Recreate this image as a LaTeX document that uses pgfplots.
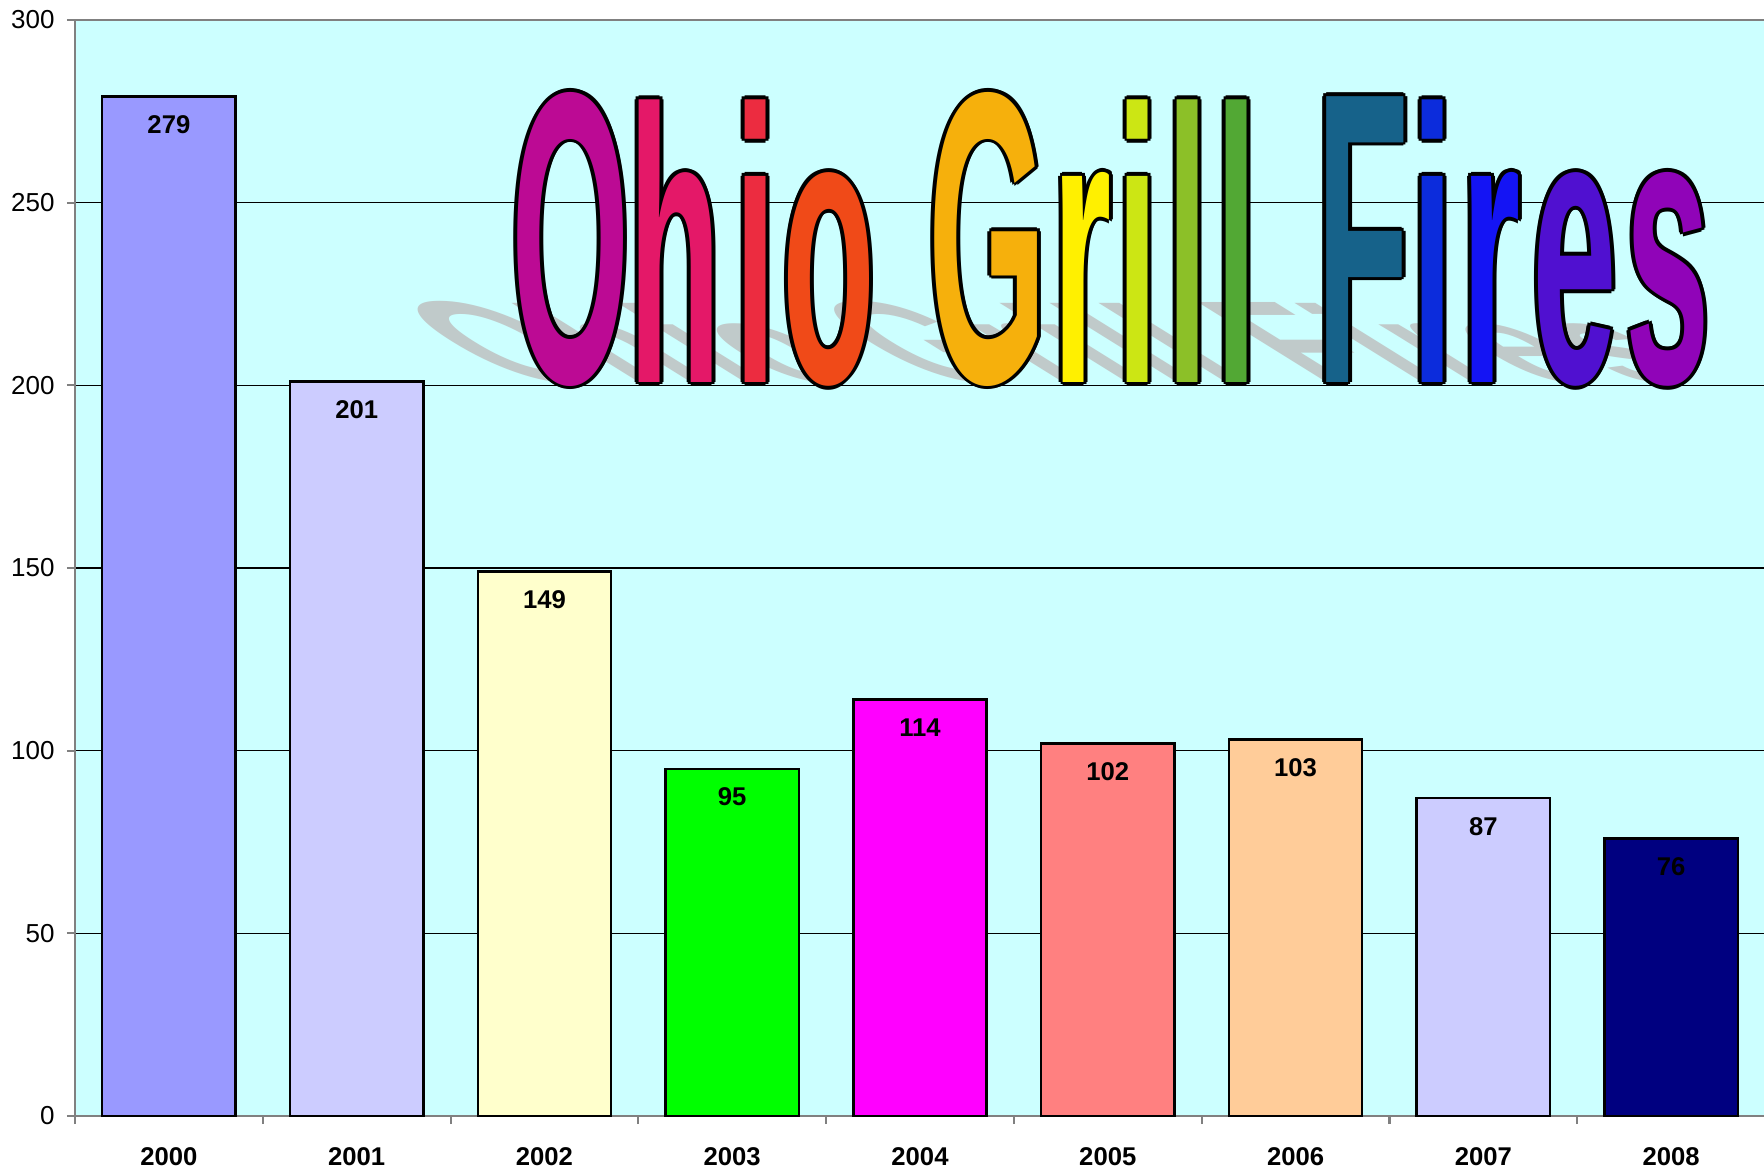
\documentclass[border=0pt]{standalone}
\usepackage{graphicx}
\usepackage{pgfplots}
\pgfplotsset{compat=1.18}
\usepackage{fontspec}
\setmainfont{Liberation Sans}
\definecolor{bg}{HTML}{CCFFFF}
\definecolor{axgray}{HTML}{808080}
\definecolor{b0}{HTML}{9999FF}
\definecolor{b1}{HTML}{CCCCFF}
\definecolor{b2}{HTML}{FFFFCC}
\definecolor{b3}{HTML}{00FF00}
\definecolor{b4}{HTML}{FF00FF}
\definecolor{b5}{HTML}{FF8080}
\definecolor{b6}{HTML}{FFCC99}
\definecolor{b7}{HTML}{CCCCFF}
\definecolor{b8}{HTML}{000080}
\definecolor{t1}{HTML}{BC0A94}
\definecolor{t2}{HTML}{E41868}
\definecolor{t3}{HTML}{EC2C40}
\definecolor{t4}{HTML}{F04A18}
\definecolor{t5}{HTML}{F6B00C}
\definecolor{t6}{HTML}{FFF000}
\definecolor{t7}{HTML}{CCE614}
\definecolor{t8}{HTML}{8CC028}
\definecolor{t9}{HTML}{52A834}
\definecolor{t10}{HTML}{16628A}
\definecolor{t11}{HTML}{0C2CDC}
\definecolor{t12}{HTML}{1414F4}
\definecolor{t13}{HTML}{5010D0}
\definecolor{t14}{HTML}{9004B8}
\definecolor{shadowgray}{HTML}{C0CACA}
\newcommand\TT[2]{\scalebox{0.39}[#1]{\fontsize{111}{111}\selectfont\bfseries #2}}
\begin{document}
\begin{tikzpicture}[x=1cm,y=1cm]
\useasboundingbox (-0.75,-0.55) rectangle (16.89,11.16);
\begin{axis}[
  at={(0,0)}, anchor=south west,
  scale only axis, width=16.90cm, height=10.96cm,
  xmin=-0.5, xmax=8.5, ymin=0, ymax=300,
  ybar, bar width=0.71, bar shift=0pt,
  xtick={0,1,2,3,4,5,6,7,8},
  xticklabels={2000,2001,2002,2003,2004,2005,2006,2007,2008},
  minor xtick={-0.5,0.5,1.5,2.5,3.5,4.5,5.5,6.5,7.5,8.5},
  major x tick style={draw=none},
  tick pos=left,
  ytick={0,50,100,150,200,250,300},
  ymajorgrids, grid style={black, line width=0.3pt},
  axis background/.style={fill=bg},
  axis line style={draw=axgray, line width=0.8pt},
  tick style={draw=axgray, line width=0.6pt},
  tick align=outside, major tick length=0.08cm, minor tick length=0.08cm,
  /pgf/number format/assume math mode=true,
  xticklabel style={font=\bfseries\fontsize{7.3}{8}\selectfont, yshift=-0.11cm},
  yticklabel style={font=\fontsize{7.4}{8}\selectfont},
  nodes near coords,
  every node near coord/.append style={font=\bfseries\fontsize{7.3}{8}\selectfont, anchor=center, yshift=-0.28cm, text=black},
]
\addplot[fill=b0, draw=black, line width=0.7pt] coordinates {(0,279)};
\addplot[fill=b1, draw=black, line width=0.7pt] coordinates {(1,201)};
\addplot[fill=b2, draw=black, line width=0.7pt] coordinates {(2,149)};
\addplot[fill=b3, draw=black, line width=0.7pt] coordinates {(3,95)};
\addplot[fill=b4, draw=black, line width=0.7pt] coordinates {(4,114)};
\addplot[fill=b5, draw=black, line width=0.7pt] coordinates {(5,102)};
\addplot[fill=b6, draw=black, line width=0.7pt] coordinates {(6,103)};
\addplot[fill=b7, draw=black, line width=0.7pt] coordinates {(7,87)};
\addplot[fill=b8, draw=black, line width=0.7pt] coordinates {(8,76)};
\end{axis}
% shadow
\foreach \xx/\ss/\ll in {4.96/1.065/O,6.00/1/h,6.805/1/i,7.535/1/o,9.13/1.065/G,10.075/1/r,10.63/1/i,11.13/1/l,11.62/1/l,12.875/1.065/F,13.575/1/i,14.16/1/r,15.00/1/e,15.93/1/s}{
  \begin{scope}[shift={(\xx,7.34)}, cm={1,0,-0.45,0.28,(0,0)}]
    \node[transform shape, anchor=base, inner sep=0pt, text=shadowgray] at (0,0) {\TT{\ss}{\ll}};
  \end{scope}
}
% title outline + fill
\foreach \xx/\cc/\ss/\ll in {4.96/t1/1.065/O,6.00/t2/1/h,6.805/t3/1/i,7.535/t4/1/o,9.13/t5/1.065/G,10.075/t6/1/r,10.63/t7/1/i,11.13/t8/1/l,11.62/t9/1/l,12.875/t10/1.065/F,13.575/t11/1/i,14.16/t12/1/r,15.00/t13/1/e,15.93/t14/1/s}{
  \foreach \dx/\dy in {0.04/0,-0.04/0,0/0.04,0/-0.04,0.028/0.028,0.028/-0.028,-0.028/0.028,-0.028/-0.028}{
    \node[anchor=base, inner sep=0pt, text=black] at ({\xx+\dx},{7.34+\dy}) {\TT{\ss}{\ll}};
  }
  \node[anchor=base, inner sep=0pt, text=\cc] at (\xx,7.34) {\TT{\ss}{\ll}};
}
\end{tikzpicture}
\end{document}
